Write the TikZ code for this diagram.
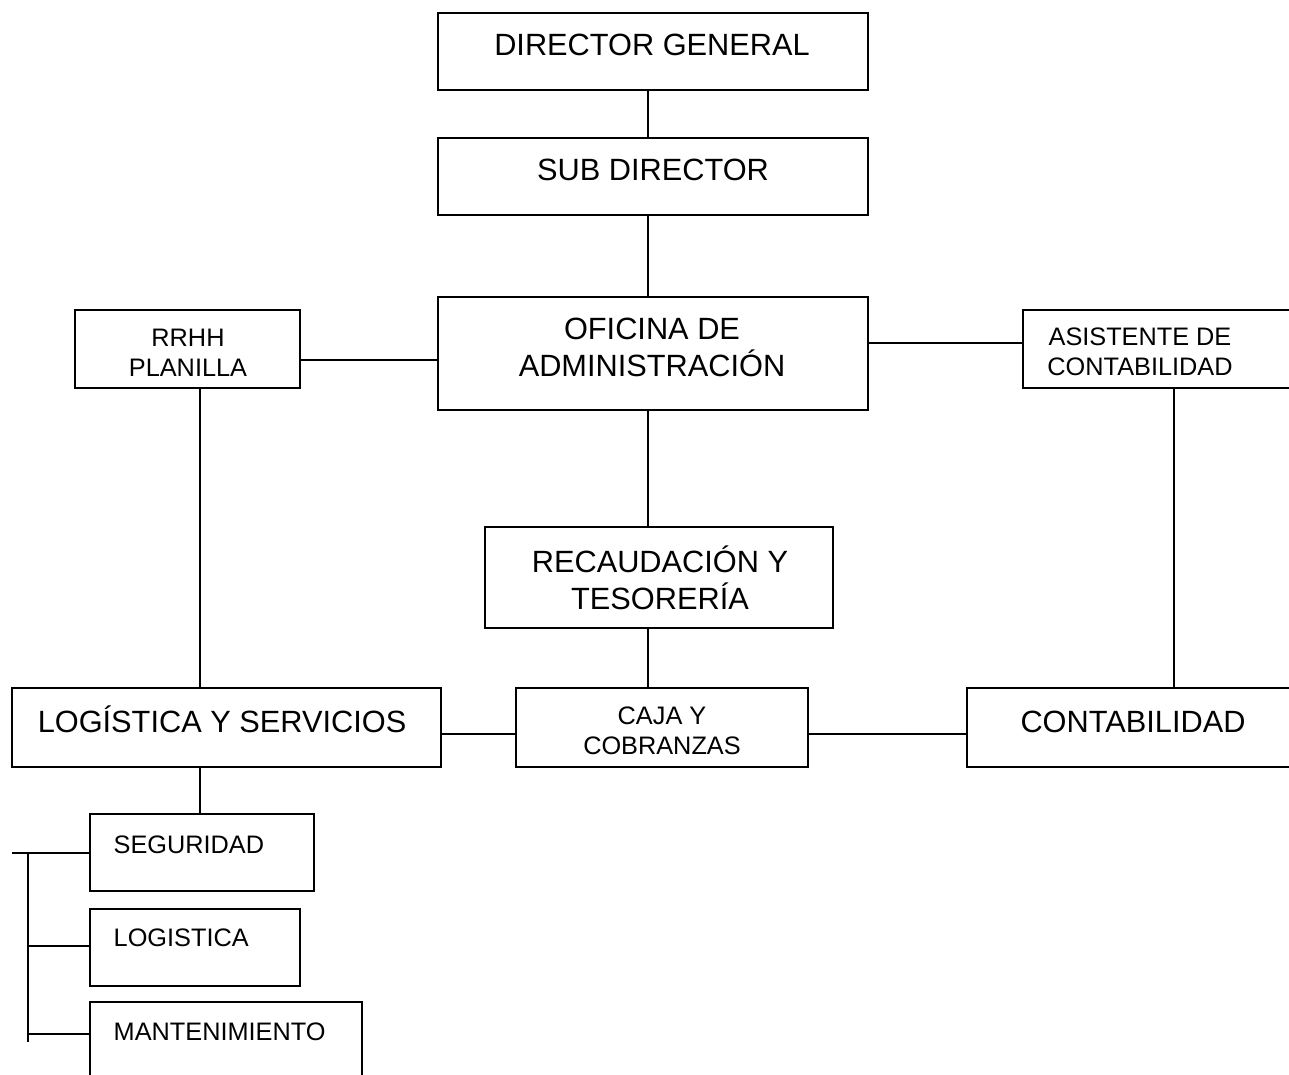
\documentclass[tikz,border=0pt]{standalone}
\usepackage{fontspec}
\setmainfont{Liberation Sans}
\usetikzlibrary{fit, positioning}

\begin{document}
\begin{tikzpicture}[x=0.02cm, y=-0.02cm, line width=0.8pt,
  box/.style={draw, rectangle, inner sep=0pt},
  bigtxt/.style={font=\fontsize{17.5}{21}\selectfont, inner sep=0pt, align=center},
  smalltxt/.style={font=\fontsize{14.4}{17}\selectfont, inner sep=0pt, align=center}]
\useasboundingbox (0,0) rectangle (1289,1075);
\clip (0,0) rectangle (1289,1075);
% boxes
\node[box, fit={(438,13) (868,90)}] (dg) {};
\node[box, fit={(438,138) (868,215)}] (sd) {};
\node[box, fit={(438,297) (868,410)}] (ofi) {};
\node[box, fit={(75,310) (300,388)}] (rrhh) {};
\node[box, fit={(1023,310) (1310,388)}] (asis) {};
\node[box, fit={(485,527) (833,628)}] (rec) {};
\node[box, fit={(12,688) (441,767)}] (log) {};
\node[box, fit={(516,688) (808,767)}] (caja) {};
\node[box, fit={(967,688) (1310,767)}] (cont) {};
\node[box, fit={(90,814) (314,891)}] (seg) {};
\node[box, fit={(90,909) (300,986)}] (logi) {};
\node[box, fit={(90,1002) (362,1100)}] (mant) {};
% texts
\node[bigtxt, anchor=base] (dgt) at (652,55) {DIRECTOR GENERAL};
\node[bigtxt, anchor=base] (sdt) at (653,180) {SUB DIRECTOR};
\node[bigtxt] (ofit) at (652,347) {OFICINA DE\\ADMINISTRACIÓN};
\node[smalltxt] (rrhht) at (188,353) {RRHH\\PLANILLA};
\node[smalltxt] (asist) at (1140,352) {ASISTENTE DE\\CONTABILIDAD};
\node[bigtxt] (rect) at (660,578) {RECAUDACIÓN Y\\TESORERÍA};
\node[bigtxt, anchor=base] (logt) at (222,732) {LOGÍSTICA Y SERVICIOS};
\node[smalltxt] (cajat) at (662,731) {CAJA Y\\COBRANZAS};
\node[bigtxt, anchor=base] (contt) at (1133,732) {CONTABILIDAD};
\node[smalltxt, anchor=base west] (segt) at (113,853) {SEGURIDAD};
\node[smalltxt, anchor=base west] (logit) at (113,946) {LOGISTICA};
\node[smalltxt, anchor=base west] (mantt) at (113,1040) {MANTENIMIENTO};
% connectors
\draw (dg.south -| 648,0) -- (sd.north -| 648,0);
\draw (sd.south -| 648,0) -- (ofi.north -| 648,0);
\draw (rrhh.east |- 0,360) -- (ofi.west |- 0,360);
\draw (ofi.east |- 0,343) -- (asis.west |- 0,343);
\draw (ofi.south -| 648,0) -- (rec.north -| 648,0);
\draw (rec.south -| 648,0) -- (caja.north -| 648,0);
\draw (rrhh.south -| 200,0) -- (log.north -| 200,0);
\draw (asis.south -| 1174,0) -- (cont.north -| 1174,0);
\draw (log.east |- 0,734) -- (caja.west |- 0,734);
\draw (caja.east |- 0,734) -- (cont.west |- 0,734);
\draw (log.south -| 200,0) -- (seg.north -| 200,0);
% bracket on the left
\coordinate (brl) at (12,853);
\coordinate (brb) at (28,1042);
\draw (brl) -- (seg.west |- brl);
\draw (brl -| brb) -- (brb);
\draw (brb |- 0,946) -- (logi.west |- 0,946);
\draw (brb |- 0,1034) -- (mant.west |- 0,1034);
\end{tikzpicture}
\end{document}
